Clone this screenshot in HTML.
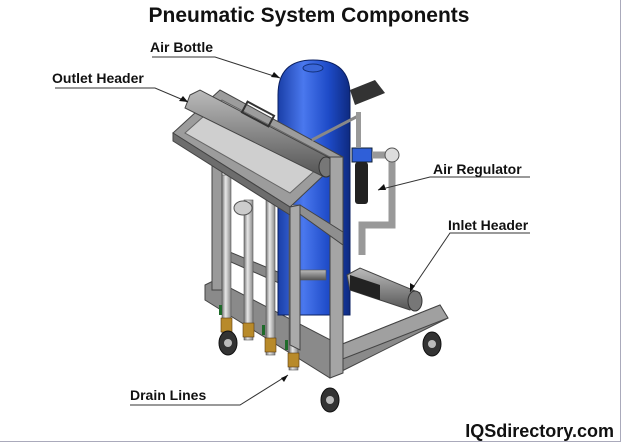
<!DOCTYPE html>
<html><head><meta charset="utf-8"><style>
html,body{margin:0;padding:0;background:#fff}
svg{display:block}
text{font-family:"Liberation Sans",Arial,sans-serif;font-weight:bold;fill:#111}
</style></head><body>
<svg width="625" height="445" viewBox="0 0 625 445" xmlns="http://www.w3.org/2000/svg">
<defs>
<linearGradient id="blue" x1="0" x2="1" y1="0" y2="0">
<stop offset="0" stop-color="#1a3fa8"/><stop offset="0.35" stop-color="#4a78ee"/><stop offset="0.7" stop-color="#1e4bc8"/><stop offset="1" stop-color="#0e2a80"/></linearGradient>
<linearGradient id="pipe" x1="0" x2="1"><stop offset="0" stop-color="#777"/><stop offset="0.4" stop-color="#e8e8e8"/><stop offset="1" stop-color="#888"/></linearGradient>
<linearGradient id="cyl" x1="0" x2="0" y1="0" y2="1"><stop offset="0" stop-color="#bbb"/><stop offset="0.5" stop-color="#888"/><stop offset="1" stop-color="#555"/></linearGradient>
</defs>
<rect width="625" height="445" fill="#fff"/>
<line x1="620.5" y1="0" x2="620.5" y2="442" stroke="#aab" stroke-width="1"/>
<line x1="0" y1="441.5" x2="621" y2="441.5" stroke="#aab" stroke-width="1"/>
<text x="309" y="22" font-size="21" text-anchor="middle">Pneumatic System Components</text>

<polygon points="205,285 215,280 340,345 440,305 448,318 340,372 330,378 205,300" fill="#8a8a8a" stroke="#444" stroke-width="1"/>
<polygon points="340,345 440,305 448,318 340,360" fill="#a0a0a0" stroke="#444"/>
<polygon points="215,255 225,250 345,300 345,312" fill="#888" stroke="#444"/>
<path d="M278,95 Q278,60 313,60 Q350,60 350,95 L350,315 L278,315 Z" fill="url(#blue)" stroke="#0a1f60"/>
<ellipse cx="313" cy="68" rx="10" ry="4" fill="#3a66d8" stroke="#12307a"/>
<polygon points="350,90 375,80 385,93 355,105" fill="#333"/>
<rect x="212" y="120" width="10" height="170" fill="#9a9a9a" stroke="#444"/>
<rect x="222" y="175" width="9" height="160" fill="url(#pipe)" stroke="#555" stroke-width=".6"/>
<rect x="244" y="200" width="9" height="140" fill="url(#pipe)" stroke="#555" stroke-width=".6"/>
<rect x="266" y="195" width="9" height="160" fill="url(#pipe)" stroke="#555" stroke-width=".6"/>
<rect x="289" y="205" width="9" height="165" fill="url(#pipe)" stroke="#555" stroke-width=".6"/>
<rect x="296" y="270" width="30" height="10" fill="url(#cyl)" stroke="#555" stroke-width=".6"/>
<ellipse cx="243" cy="208" rx="9" ry="7" fill="#ccc" stroke="#555"/>
<g fill="#b88a2a" stroke="#5a3a10" stroke-width=".6">
<rect x="221" y="318" width="11" height="14"/><rect x="243" y="323" width="11" height="14"/><rect x="265" y="338" width="11" height="14"/><rect x="288" y="353" width="11" height="14"/></g>
<g fill="#1e6b2a"><rect x="219" y="305" width="3" height="10"/><rect x="262" y="325" width="3" height="10"/><rect x="285" y="340" width="3" height="10"/></g>
<polygon points="173,133 220,90 343,157 290,207" fill="#9c9c9c" stroke="#444"/>
<polygon points="185,133 222,100 330,157 290,193" fill="#cfcfcf" stroke="#666"/>
<polygon points="173,133 290,207 290,215 173,141" fill="#6d6d6d" stroke="#444"/>
<polygon points="190,95 200,90 330,158 322,176 185,108" fill="url(#cyl)" stroke="#444"/>
<ellipse cx="326" cy="167" rx="7" ry="10" fill="#777" stroke="#333"/>
<rect x="243" y="108" width="30" height="12" fill="none" stroke="#333" stroke-width="2" transform="rotate(28 258 114)"/>
<polygon points="330,157 343,157 343,373 330,378" fill="#a5a5a5" stroke="#444"/>
<polygon points="290,207 300,205 343,232 343,245" fill="#8f8f8f" stroke="#444"/>
<polygon points="290,207 290,345 300,350 300,205" fill="#aaa" stroke="#444"/>
<line x1="312" y1="140" x2="360" y2="115" stroke="#888" stroke-width="3"/>
<rect x="356" y="112" width="5" height="35" fill="#999"/>
<rect x="352" y="148" width="20" height="14" fill="#2f5fd8" stroke="#123"/>
<rect x="355" y="162" width="13" height="42" rx="3" fill="#222"/>
<path d="M372,155 h20 v70 h-30 v30" fill="none" stroke="#999" stroke-width="7"/>
<circle cx="392" cy="155" r="7" fill="#ddd" stroke="#555"/>
<polygon points="347,275 360,268 420,293 410,310 350,290" fill="url(#cyl)" stroke="#444"/>
<polygon points="350,275 380,285 380,300 350,290" fill="#222"/>
<ellipse cx="415" cy="301" rx="7" ry="10" fill="#777" stroke="#333"/>
<g fill="#333" stroke="#111">
<ellipse cx="228" cy="343" rx="9" ry="12"/><ellipse cx="330" cy="400" rx="9" ry="12"/><ellipse cx="432" cy="344" rx="9" ry="12"/></g>
<g fill="#bbb"><circle cx="228" cy="343" r="4"/><circle cx="330" cy="400" r="4"/><circle cx="432" cy="344" r="4"/></g>

<g stroke="#333" stroke-width="1" fill="none">
<polyline points="152,57 215,57 280,78"/>
<polyline points="55,88 155,88 188,102"/>
<polyline points="530,177 430,177 378,190"/>
<polyline points="530,233 450,233 410,292"/>
<polyline points="130,405 240,405 288,375"/>
</g>
<g fill="#111"><polygon points="280,78 271,77 274,72"/><polygon points="188,102 179,101 183,96"/><polygon points="378,190 384,184 386,190"/><polygon points="410,292 410,283 415,286"/><polygon points="288,375 284,382 281,378"/></g>
<text x="150" y="52" font-size="14">Air Bottle</text>
<text x="52" y="83" font-size="14">Outlet Header</text>
<text x="433" y="174" font-size="14">Air Regulator</text>
<text x="448" y="230" font-size="14">Inlet Header</text>
<text x="130" y="400" font-size="14">Drain Lines</text>
<text x="614" y="437" font-size="18" text-anchor="end">IQSdirectory.com</text>
</svg>
</body></html>
